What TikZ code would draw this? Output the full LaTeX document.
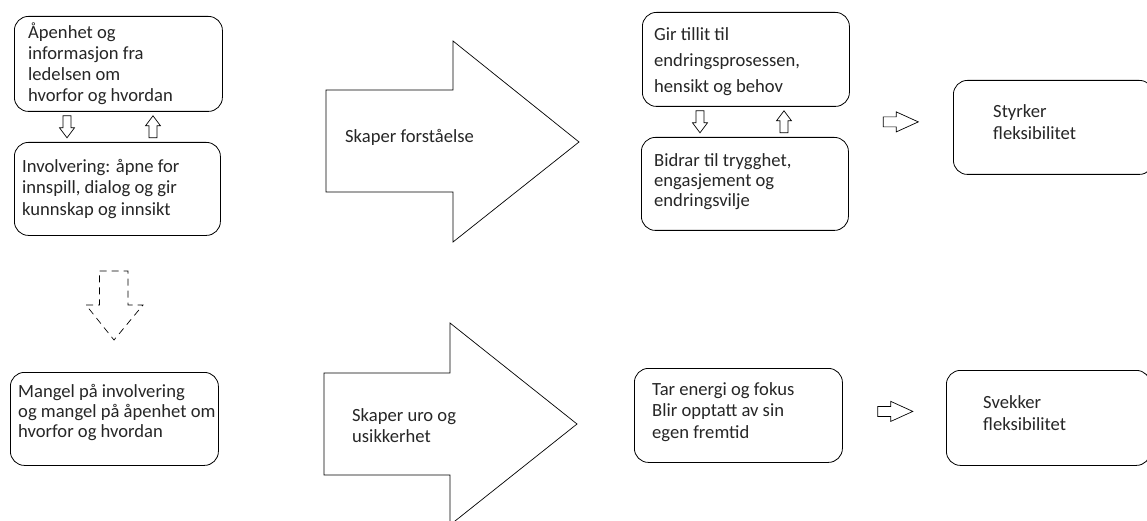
\documentclass[tikz,border=0pt]{standalone}
\usepackage{fontspec}
\setmainfont{Carlito}
\usetikzlibrary{calc}
\begin{document}
\begin{tikzpicture}[x=1pt,y=-1pt,
  box/.style={draw, rounded corners=14pt, line width=0.8pt, anchor=north west, inner sep=0pt},
  txt/.style={anchor=base west, align=left, inner sep=0pt, text=black!85},
  fs/.style={font=\fontsize{18.6}{#1}\selectfont},
  blk/.style={draw, line width=0.7pt, fill=white, line join=miter},
  dnarrow/.pic={\draw[blk] (-4,0) -- (4,0) -- (4,12) -- (7.5,12) -- (0,22) -- (-7.5,12) -- (-4,12) -- cycle;},
  uparrow/.pic={\draw[blk] (-4,22) -- (4,22) -- (4,10) -- (7.5,10) -- (0,0) -- (-7.5,10) -- (-4,10) -- cycle;},
  rtarrow/.pic={\draw[blk] (0,-5) -- (13,-5) -- (13,-10) -- (35,0) -- (13,10) -- (13,5) -- (0,5) -- cycle;}]
\useasboundingbox (0,0) rectangle (1147,521);
\fill[white] (0,0) rectangle (1147,521);

% boxes
\node[box, minimum width=208pt, minimum height=95pt] (A) at (14,16) {};
\node[box, minimum width=206pt, minimum height=93pt] (B) at (14,142) {};
\node[box, minimum width=208pt, minimum height=93pt] (C) at (10,372) {};
\node[box, minimum width=207pt, minimum height=94pt] (D) at (642,12) {};
\node[box, minimum width=207pt, minimum height=93pt] (E) at (641,137) {};
\node[box, minimum width=200pt, minimum height=94pt] (F) at (953,80) {};
\node[box, minimum width=208pt, minimum height=94pt] (G) at (634,368) {};
\node[box, minimum width=204pt, minimum height=95pt] (H) at (946,370) {};

% texts (anchored at the baseline of the last line)
\node[txt, fs=21] (At) at (28,102) {Åpenhet og\\informasjon fra\\ledelsen om\\hvorfor og hvordan};
\node[txt, fs=21.5] (Bt) at (22,215) {Involvering: åpne for\\innspill, dialog og gir\\kunnskap og innsikt};
\node[txt, fs=20] (Ct) at (18,437) {Mangel på involvering\\og mangel på åpenhet om\\hvorfor og hvordan};
\node[txt, fs=26] (Dt) at (654,93) {Gir tillit til\\endringsprosessen,\\hensikt og behov};
\node[txt, fs=20] (Et) at (654,207) {Bidrar til trygghet,\\engasjement og\\endringsvilje};
\node[txt, fs=22] (Ft) at (993,140) {Styrker\\fleksibilitet};
\node[txt, fs=21.5] (Gt) at (652,438) {Tar energi og fokus\\Blir opptatt av sin\\egen fremtid};
\node[txt, fs=22] (Ht) at (983,430) {Svekker\\fleksibilitet};

% small block arrows
\pic at ($(A.south west)+(53,4)$) {dnarrow};
\pic at ($(A.south west)+(139,4)$) {uparrow};
\pic at ($(D.south west)+(58,4)$) {dnarrow};
\pic at ($(D.south west)+(142,4)$) {uparrow};
\pic at ($(D.south east)!0.5!(E.north east)+(34,0)$) {rtarrow};
\pic at ($(G.east)+(35,-4)$) {rtarrow};

% dashed arrow
\draw[blk, dash pattern=on 7pt off 5pt] (99.5,271) -- (128,271) -- (128,305) -- (143,305) -- (114,340) -- (86,305) -- (99.5,305) -- cycle;

% big arrows
\draw[blk] (326,90) -- (453,90) -- (453,41) -- (579,142) -- (453,242) -- (453,192) -- (326,192) -- cycle;
\node[txt, fs=21] (S1) at (345,143) {Skaper forståelse};
\draw[blk] (324,373) -- (450,373) -- (450,323) -- (577,424) -- (450,525) -- (450,475) -- (324,475) -- cycle;
\node[txt, fs=21] (S2) at (352,442) {Skaper uro og\\usikkerhet};
\end{tikzpicture}
\end{document}
